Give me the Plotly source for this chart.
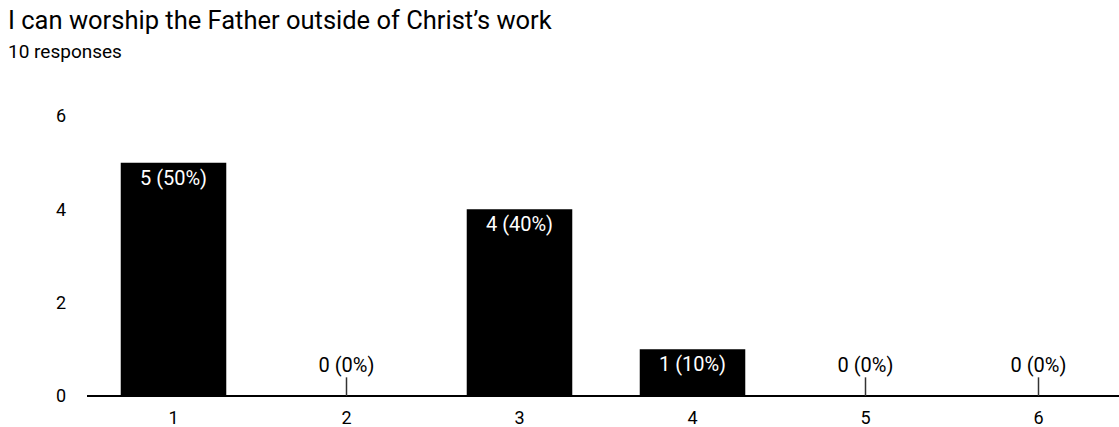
import plotly.graph_objects as go

# Survey results
categories = [1, 2, 3, 4, 5, 6]
counts = [5, 0, 4, 1, 0, 0]
total_responses = 10
title_text = "I can worship the Father outside of Christ’s work"
subtitle_text = f"{total_responses} responses"
y_ticks = [0, 2, 4, 6]

FONT = "Roboto, Arial, sans-serif"
ZERO_STUB = 0.4  # height of the marker stub drawn for empty categories
W, H = 1119, 427
ML, MT, MB = 87, 116, 31
PW, PH = W - ML, H - MT - MB

labels = [f"{c} ({round(100 * c / total_responses)}%)" for c in counts]
nonzero_text = [lab if c > 0 else "" for lab, c in zip(labels, counts)]

fig = go.Figure()

fig.add_trace(go.Bar(
    x=categories,
    y=counts,
    marker=dict(color="black", line=dict(width=0)),
    text=nonzero_text,
    textposition="inside",
    insidetextanchor="end",
    textangle=0,
    constraintext="none",
    textfont=dict(color="white", size=20, family=FONT),
    width=0.61,
    error_y=dict(
        type="data",
        symmetric=False,
        array=[ZERO_STUB if c == 0 else 0 for c in counts],
        arrayminus=[0] * len(counts),
        width=0,
        thickness=1.5,
        color="#333333",
    ),
    hoverinfo="skip",
))

zx = [x for x, c in zip(categories, counts) if c == 0]
zt = [lab for lab, c in zip(labels, counts) if c == 0]
fig.add_trace(go.Scatter(
    x=zx,
    y=[ZERO_STUB] * len(zx),
    mode="text",
    text=zt,
    textposition="top center",
    textfont=dict(color="black", size=20, family=FONT),
    hoverinfo="skip",
))

fig.update_layout(
    width=W,
    height=H,
    margin=dict(l=ML, r=0, t=MT, b=MB),
    paper_bgcolor="white",
    plot_bgcolor="white",
    showlegend=False,
    font=dict(family=FONT, color="black"),
    xaxis=dict(
        range=[0.5, 0.5 + PW / 173],
        tickvals=categories,
        ticktext=[str(c) for c in categories],
        tickfont=dict(size=18),
        showgrid=False,
        zeroline=False,
        showline=False,
        ticks="",
        ticklabelstandoff=9,
    ),
    yaxis=dict(
        range=[0, 6],
        tickvals=y_ticks,
        tickfont=dict(size=18),
        showgrid=False,
        zeroline=True,
        zerolinecolor="black",
        zerolinewidth=2,
        showline=False,
        ticks="",
        ticklabelstandoff=20,
    ),
    annotations=[
        dict(text=title_text, xref="paper", yref="paper",
             x=(6 - ML) / PW, y=1 + (MT - 20) / PH,
             xanchor="left", yanchor="middle", showarrow=False,
             font=dict(size=25.5, family=FONT, color="black")),
        dict(text=subtitle_text, xref="paper", yref="paper",
             x=(6 - ML) / PW, y=1 + (MT - 52) / PH,
             xanchor="left", yanchor="middle", showarrow=False,
             font=dict(size=19, family=FONT, color="black")),
    ],
)

fig.write_html("out.html")
